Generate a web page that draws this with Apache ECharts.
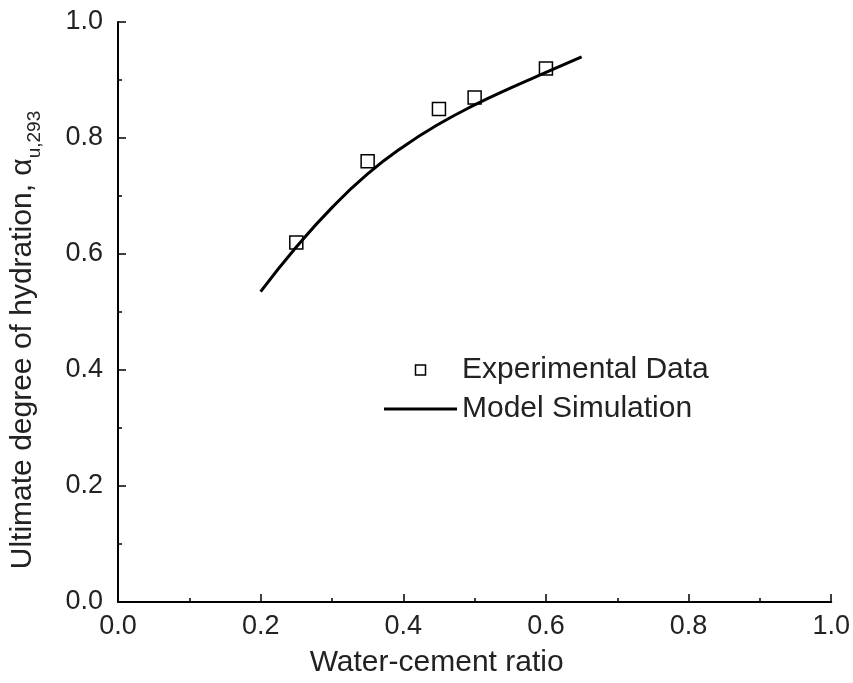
<!DOCTYPE html>
<html><head><meta charset="utf-8">
<script src="https://cdn.jsdelivr.net/npm/echarts@6/dist/echarts.min.js"></script>
<style>html,body{margin:0;padding:0;background:#fff}#c{width:853px;height:683px}</style>
</head><body><div id="c"></div>
<script>
const expX = [0.25, 0.35, 0.45, 0.50, 0.60];
const expY = [0.62, 0.76, 0.85, 0.87, 0.92];
const modelX = [0.20, 0.25, 0.30, 0.35, 0.40, 0.45, 0.50, 0.55, 0.60, 0.65];
const modelY = [0.535, 0.612, 0.680, 0.738, 0.785, 0.824, 0.857, 0.886, 0.913, 0.940];
const xTickLabels = ['0.0', '0.2', '0.4', '0.6', '0.8', '1.0'];
const yTickLabels = ['0.0', '0.2', '0.4', '0.6', '0.8', '1.0'];
const seriesNames = ['Experimental Data', 'Model Simulation'];
const xTitle = 'Water-cement ratio';
const yTitleMain = 'Ultimate degree of hydration, ';
const yTitleSym = 'α';
const yTitleSub = 'u,293';

const FONT = '"Liberation Sans", Arial, sans-serif';
const TXT = '#222';

const chart = echarts.init(document.getElementById('c'), null, {renderer: 'canvas'});

function labelFmt(list) {
  return function (v) { return list[Math.round(v / 0.2)]; };
}

const axisCommon = {
  type: 'value', min: 0, max: 1, interval: 0.2,
  splitLine: {show: false},
  axisLine: {show: true, lineStyle: {color: '#000', width: 2}},
  axisTick: {show: true, inside: true, length: 8, lineStyle: {color: '#000', width: 1.5}},
  minorTick: {show: true, splitNumber: 2, length: 4, lineStyle: {color: '#000', width: 1.5}},
  minorSplitLine: {show: false}
};

chart.setOption({
  animation: false,
  backgroundColor: '#fff',
  grid: {left: 116, right: 21, top: 22, bottom: 80, containLabel: false},
  xAxis: Object.assign({}, axisCommon, {
    name: xTitle,
    nameLocation: 'middle',
    nameGap: 46,
    nameTextStyle: {fontFamily: FONT, fontSize: 30, color: TXT, padding: [0, 76, 0, 0]},
    axisLabel: {fontFamily: FONT, fontSize: 27, color: TXT, margin: 11, formatter: labelFmt(xTickLabels)}
  }),
  yAxis: Object.assign({}, axisCommon, {
    name: '{m|' + yTitleMain + yTitleSym + '}{s|' + yTitleSub + '}',
    nameLocation: 'middle',
    nameGap: 74,
    nameTextStyle: {
      fontFamily: FONT, color: TXT, padding: [0, 56, 0, 0],
      rich: {
        m: {fontFamily: FONT, fontSize: 30, color: TXT, lineHeight: 36, verticalAlign: 'top'},
        s: {fontFamily: FONT, fontSize: 19, color: TXT, lineHeight: 18, verticalAlign: 'bottom'}
      }
    },
    axisLabel: {fontFamily: FONT, fontSize: 27, color: TXT, margin: 15, formatter: labelFmt(yTickLabels)}
  }),
  legend: {
    orient: 'vertical',
    left: 384, top: 355, padding: 0,
    itemWidth: 73, itemHeight: 10, itemGap: 9,
    textStyle: {fontFamily: FONT, fontSize: 30, color: TXT, lineHeight: 30},
    data: [
      {name: seriesNames[0], icon: 'path://M0,0H10V10H0Z',
       itemStyle: {color: 'rgba(0,0,0,0)', borderColor: '#000', borderWidth: 1.5}},
      {name: seriesNames[1], icon: 'path://M0,0H73V3H0Z',
       itemStyle: {color: '#000', borderWidth: 0}}
    ]
  },
  series: [
    {
      name: seriesNames[0], type: 'scatter', symbol: 'rect', symbolSize: 13,
      itemStyle: {color: 'rgba(0,0,0,0)', borderColor: '#000', borderWidth: 1.5, opacity: 1},
      data: expX.map((x, i) => [x, expY[i]]), z: 3
    },
    {
      name: seriesNames[1], type: 'line', smooth: 0.5, symbol: 'none', showSymbol: false,
      lineStyle: {color: '#000', width: 3}, itemStyle: {color: '#000'},
      data: modelX.map((x, i) => [x, modelY[i]]), z: 2
    }
  ]
});
</script></body></html>
